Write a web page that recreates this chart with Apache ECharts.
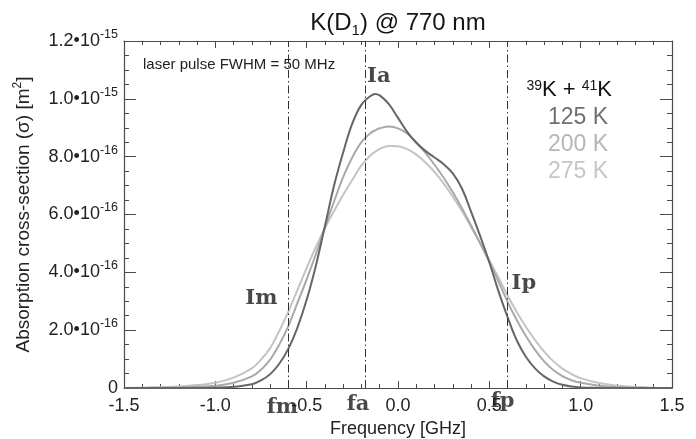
<!DOCTYPE html>
<html><head><meta charset="utf-8">
<script src="https://cdn.jsdelivr.net/npm/echarts/dist/echarts.min.js"></script>
<style>html,body{margin:0;padding:0;background:#fff}#c{width:696px;height:439px}</style>
</head><body><div id="c"></div>
<script>
// Frequency [GHz]
const freq = [-1.5,-1.4,-1.3,-1.2,-1.1,-1.0,-0.9,-0.8,
  -0.75,-0.7,-0.65,-0.6,-0.55,-0.5,-0.45,-0.4,-0.35,-0.3,-0.25,-0.2,-0.15,-0.125,-0.1,-0.05,0,
  0.05,0.1,0.15,0.2,0.25,0.3,0.35,0.4,0.45,0.5,0.55,0.6,0.65,0.7,0.75,0.8,0.85,0.9,0.95,
  1.0,1.1,1.2,1.3,1.4,1.5];
// Absorption cross-section, units of 1e-16 m^2
const sigma125 = [0,0,0,0,0.003,0.01,0.04,0.13,
  0.26,0.48,0.84,1.36,2.1,3.05,4.22,5.6,7.0,8.15,9.15,9.8,10.1,10.17,10.12,9.82,9.34,
  8.86,8.48,8.2,7.97,7.74,7.42,6.9,6.1,5.25,4.35,3.35,2.45,1.65,1.08,0.68,0.4,0.22,0.11,0.05,
  0.02,0.004,0,0,0,0];
const sigma200 = [0,0.003,0.008,0.02,0.04,0.08,0.18,0.4,
  0.63,0.98,1.5,2.15,2.95,3.76,4.62,5.55,6.45,7.3,7.98,8.5,8.82,8.91,8.98,9.04,8.98,
  8.8,8.5,8.13,7.72,7.27,6.77,6.22,5.62,5.0,4.36,3.68,2.98,2.35,1.8,1.32,0.92,0.62,0.41,0.27,
  0.18,0.08,0.03,0.01,0.003,0];
const sigma275 = [0.003,0.01,0.025,0.05,0.1,0.18,0.36,0.68,
  0.98,1.38,1.97,2.65,3.4,4.15,4.87,5.53,6.12,6.68,7.2,7.7,8.05,8.17,8.27,8.37,8.36,
  8.26,8.07,7.8,7.47,7.07,6.62,6.12,5.57,5.0,4.42,3.82,3.2,2.63,2.12,1.66,1.26,0.93,0.67,0.48,
  0.34,0.17,0.08,0.035,0.012,0.003];
const seriesNames = ['125 K','200 K','275 K'];
const xTickValues = [-1.5,-1.0,-0.5,0,0.5,1.0,1.5];
const xTickLabels = ['-1.5','-1.0','-0.5','0.0','0.5','1.0','1.5'];
const yTickValues = [0,2,4,6,8,10,12];
const yTickMantissa = ['0','2.0','4.0','6.0','8.0','1.0','1.2'];
const yTickExponent = ['','-16','-16','-16','-16','-15','-15'];
const markerFreq = [-0.6,-0.18,0.6];
const markerNames = ['fm','fa','fp'];
const intensityNames = ['Im','Ia','Ip'];

const FONT = "'Liberation Sans', Arial, Helvetica, sans-serif";
const SERIF = "'DejaVu Serif', 'Liberation Serif', serif";
const curveColors = ['#666666','#a9a9a9','#c4c4c4'];
const textColors = ['#707070','#b6b6b6','#c6c6c6'];
const axisColor = '#4a4a4a';

function pairs(ys){ return freq.map((f,i)=>[f, ys[i]]); }

const chart = echarts.init(document.getElementById('c'));
const markerLabelStyle = {fontFamily: SERIF, fontWeight: 'bold', fontSize: 21, color: '#1a1a1a'};

const annotations = [
  {value:[markerFreq[0], 3.08], label:{show:true, formatter:intensityNames[0], position:'left', distance:11, ...markerLabelStyle}},
  {value:[markerFreq[1], 10.78], label:{show:true, formatter:intensityNames[1], position:'right', distance:2, ...markerLabelStyle}},
  {value:[markerFreq[2], 3.6], label:{show:true, formatter:intensityNames[2], position:'right', distance:4, ...markerLabelStyle}},
  {value:[markerFreq[0], 0], label:{show:true, formatter:markerNames[0], position:'bottom', distance:9, offset:[-6,0], ...markerLabelStyle}},
  {value:[markerFreq[1], 0], label:{show:true, formatter:markerNames[1], position:'bottom', distance:6, offset:[-7,0], ...markerLabelStyle}},
  {value:[markerFreq[2], 0], label:{show:true, formatter:markerNames[2], position:'bottom', distance:3, offset:[-5,0], ...markerLabelStyle}}
];

const xAxisCommon = {
  type:'value', min:-1.5, max:1.5, interval:0.5,
  axisLine:{show:true, onZero:false, lineStyle:{color:axisColor, width:1.2}},
  axisTick:{show:true, inside:true, length:7, lineStyle:{color:axisColor, width:1}},
  minorTick:{show:true, splitNumber:5, length:4, lineStyle:{color:axisColor, width:1}},
  splitLine:{show:false}, minorSplitLine:{show:false}
};
const yAxisCommon = {
  type:'value', min:0, max:12, interval:2,
  axisLine:{show:true, onZero:false, lineStyle:{color:axisColor, width:1.2}},
  axisTick:{show:true, inside:true, length:12, lineStyle:{color:axisColor, width:1}},
  minorTick:{show:true, splitNumber:4, length:5, lineStyle:{color:axisColor, width:1}},
  splitLine:{show:false}, minorSplitLine:{show:false}
};

chart.setOption({
  animation:false,
  backgroundColor:'#fff',
  title:{
    text:'K(D{sub|1}) @ 770 nm', left:398, top:8, padding:0, textAlign:'center',
    textStyle:{fontFamily:FONT, fontSize:24, fontWeight:'normal', color:'#151515', lineHeight:30,
      rich:{sub:{fontFamily:FONT, fontSize:15, color:'#151515', verticalAlign:'bottom'}}}
  },
  grid:{left:124, right:24, top:41, bottom:51, containLabel:false, outerBoundsMode:'none'},
  xAxis:[
    Object.assign({}, xAxisCommon, {
      position:'bottom',
      name:'Frequency [GHz]', nameLocation:'middle', nameGap:29,
      nameTextStyle:{fontFamily:FONT, fontSize:18, color:'#222'},
      axisLabel:{show:true, margin:9, fontFamily:FONT, fontSize:18, color:'#222',
        showMinLabel:true, showMaxLabel:true,
        formatter:(v)=>{ const i = xTickValues.findIndex(t=>Math.abs(t-v)<1e-9); return i>=0 ? xTickLabels[i] : ''; }}
    }),
    Object.assign({}, xAxisCommon, {position:'top', axisLabel:{show:false}})
  ],
  yAxis:[
    Object.assign({}, yAxisCommon, {
      position:'left',
      name:'Absorption cross-section (σ) [m{sup|2}]', nameLocation:'middle', nameGap:88, nameRotate:90,
      nameTextStyle:{fontFamily:FONT, fontSize:19, color:'#222', lineHeight:24,
        rich:{sup:{fontFamily:FONT, fontSize:12, color:'#222', verticalAlign:'top', lineHeight:12}}},
      axisLabel:{show:true, margin:6, showMinLabel:true, showMaxLabel:true,
        formatter:(v)=>{ const i = yTickValues.findIndex(t=>Math.abs(t-v)<1e-9); if(i<0) return '';
          return yTickExponent[i] ? '{m|'+yTickMantissa[i]+'•10}{e|'+yTickExponent[i]+'}' : '{m|'+yTickMantissa[i]+'}'; },
        rich:{
          m:{fontFamily:FONT, fontSize:18, color:'#222', lineHeight:26},
          e:{fontFamily:FONT, fontSize:12.5, color:'#222', verticalAlign:'top', lineHeight:14}
        }}
    }),
    Object.assign({}, yAxisCommon, {position:'right', axisLabel:{show:false}})
  ],
  series:[
    {name:seriesNames[0], type:'line', data:pairs(sigma125), smooth:0.4, showSymbol:false, symbol:'none',
      lineStyle:{color:curveColors[0], width:2}, z:4,
      markLine:{silent:true, symbol:['none','none'], label:{show:false},
        lineStyle:{color:'#333', width:1, type:[8,3,1.5,3]},
        data: markerFreq.map(f=>({xAxis:f}))}},
    {name:seriesNames[1], type:'line', data:pairs(sigma200), smooth:0.4, showSymbol:false, symbol:'none',
      lineStyle:{color:curveColors[1], width:2}, z:3},
    {name:seriesNames[2], type:'line', data:pairs(sigma275), smooth:0.4, showSymbol:false, symbol:'none',
      lineStyle:{color:curveColors[2], width:2}, z:2},
    {type:'scatter', data:annotations, symbolSize:0, clip:false, silent:true, z:6,
      itemStyle:{color:'transparent'}}
  ],
  graphic:[
    {type:'text', x:143, y:65, z:10, style:{text:'laser pulse FWHM = 50 MHz', fontFamily:FONT, fontSize:15, fill:'#222', align:'left', verticalAlign:'middle'}},
    {type:'text', x:612, y:90, z:10, style:{text:'{s|39}K + {s|41}K', fontFamily:FONT, fontSize:22, fill:'#111', align:'right', verticalAlign:'middle',
      rich:{s:{fontFamily:FONT, fontSize:14, fill:'#111', verticalAlign:'top', lineHeight:14}}}},
    {type:'text', x:608, y:118, z:10, style:{text:seriesNames[0], fontFamily:FONT, fontSize:23, fill:textColors[0], align:'right', verticalAlign:'middle'}},
    {type:'text', x:608, y:145, z:10, style:{text:seriesNames[1], fontFamily:FONT, fontSize:23, fill:textColors[1], align:'right', verticalAlign:'middle'}},
    {type:'text', x:608, y:172, z:10, style:{text:seriesNames[2], fontFamily:FONT, fontSize:23, fill:textColors[2], align:'right', verticalAlign:'middle'}}
  ]
});
</script></body></html>
